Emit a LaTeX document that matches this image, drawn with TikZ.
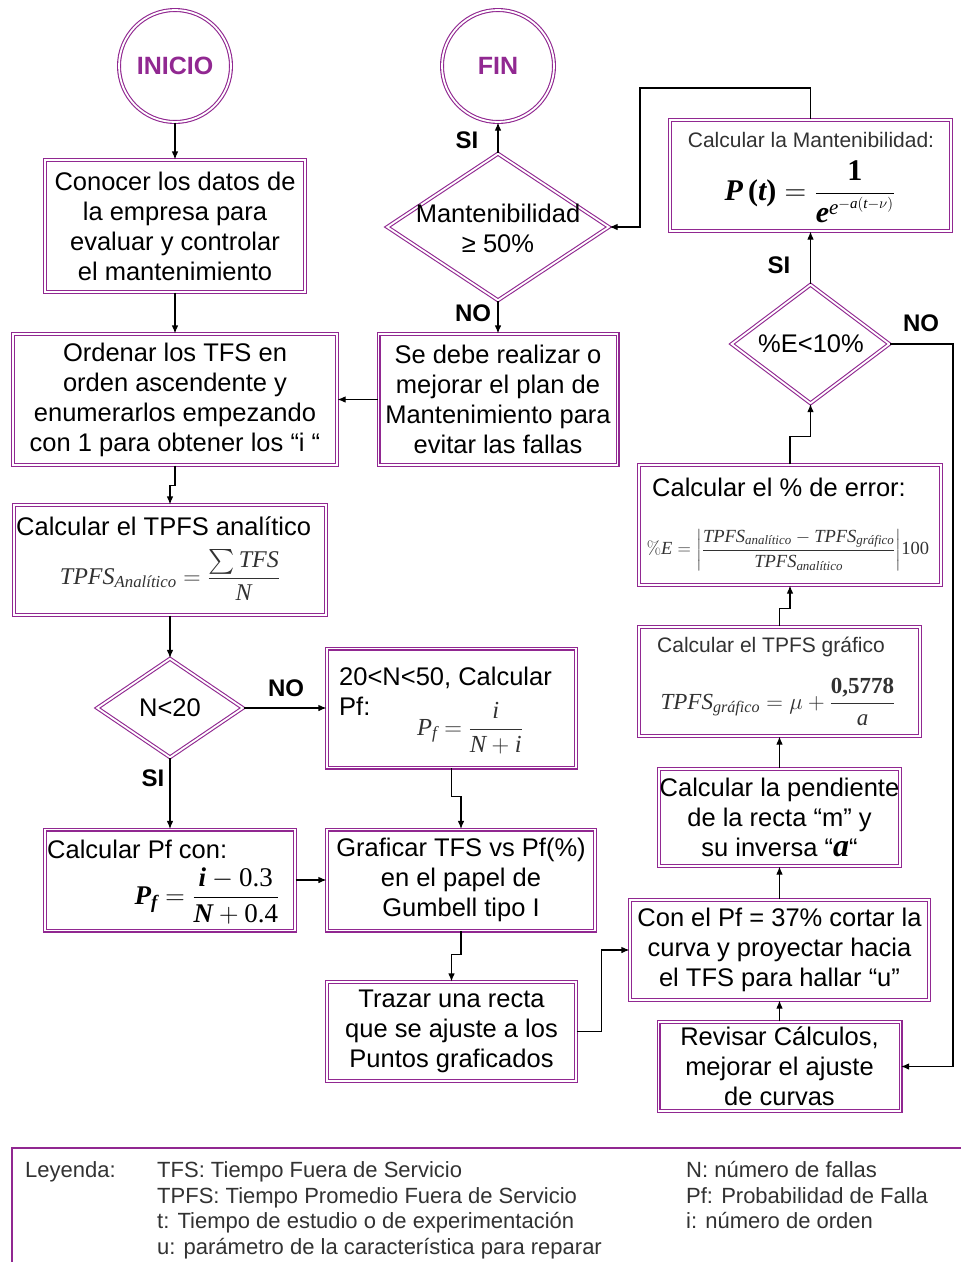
\RequirePackage{fix-cm}
\documentclass[tikz,border=0pt]{standalone}
\usepackage{amsmath}
\usepackage[no-math]{fontspec}
\setmainfont{Liberation Sans}
\newfontfamily\tms{Liberation Serif}
\newcommand\ti[1]{\text{\tms\itshape #1}}
\newcommand\bi[1]{\text{\tms\bfseries\itshape #1}}
\newcommand\tr[1]{\text{\tms #1}}
\newcommand\br[1]{\text{\tms\bfseries #1}}
\usetikzlibrary{shapes.geometric,arrows.meta}
\definecolor{pp}{RGB}{145,40,145}
\definecolor{fg}{RGB}{50,50,50}
\newcommand\mainfs{\fontsize{25.5}{30}\selectfont}
\newcommand\smallfs{\fontsize{21}{25}\selectfont}
\tikzset{
  x=1pt, y=-1pt,
  box/.style={draw=pp, double=white, double distance=1.8pt, line width=1.1pt,
    rectangle, inner sep=0pt, align=center, font=\mainfs},
  circ/.style={draw=pp, double=white, double distance=1.8pt, line width=1.1pt,
    circle, inner sep=0pt, text=pp, font=\fontsize{25}{28}\bfseries},
  dia/.style={draw=pp, double=white, double distance=1.8pt, line width=1.1pt,
    diamond, inner sep=0pt},
  txt/.style={inner sep=0pt, align=center, font=\mainfs},
  stxt/.style={inner sep=0pt, align=center, text=fg, font=\smallfs},
  fml/.style={inner sep=0pt, text=fg},
  lbl/.style={inner sep=0pt, font=\fontsize{24}{28}\bfseries},
  leg/.style={inner sep=0pt, text=fg, font=\fontsize{22}{25}\selectfont},
  arr/.style={draw=black, line width=1.1pt, -{Latex[length=8pt,width=6.5pt]}},
  legline/.style={draw=pp, line width=1.3pt}
}
\begin{document}
\begin{tikzpicture}
\fill[white] (0,0) rectangle (961,1262);
\useasboundingbox (0,0) rectangle (961,1262);

% circles
\node[circ, minimum size=112pt] (c1) at (175,66) {INICIO};
\node[circ, minimum size=112pt] (c2) at (498,66) {FIN};

% left column boxes
\node[box, minimum width=260pt, minimum height=132pt] (b1) at (175,226)
  {Conocer los datos de\\la empresa para\\evaluar y controlar\\el mantenimiento};
\node[box, minimum width=324pt, minimum height=131pt] (b2) at (175,399.5)
  {Ordenar los TFS en\\orden ascendente y\\enumerarlos empezando\\con 1 para obtener los “i “};
\node[box, minimum width=239pt, minimum height=131pt] (b3) at (498,399.5)
  {Se debe realizar o\\mejorar el plan de\\Mantenimiento para\\evitar las fallas};
\node[box, minimum width=312pt, minimum height=110pt] (b4) at (170,560) {};
\node[txt, anchor=west] (t4a) at (16,526) {Calcular el TPFS analítico};
\node[fml] (t4b) at (170,575) {\fontsize{24}{28}\selectfont
  $\ti{TPFS}_{\ti{Analítico}} = \dfrac{\sum \ti{TFS}}{\ti{N}}$};

\node[box, minimum width=249pt, minimum height=119pt] (b5) at (451.5,708) {};
\node[txt, anchor=west, align=left] (t5a) at (339,691) {20<N<50, Calcular\\Pf:};
\node[fml] (t5b) at (470,728) {\fontsize{24.5}{28}\selectfont
  $\ti{P}_{\ti{f}} = \dfrac{\ti{i}}{\ti{N}+\ti{i}}$};

\node[box, minimum width=250pt, minimum height=101pt] (b6) at (170,880) {};
\node[txt, anchor=west] (t6a) at (47,849) {Calcular Pf con:};
\node[fml, text=black] (t6b) at (207,896) {\fontsize{27}{30}\selectfont
  $\bi{P}_{\bi{f}} = \dfrac{\bi{i}-\tr{0.3}}{\bi{N}+\tr{0.4}}$};

\node[box, minimum width=268pt, minimum height=101pt] (b7) at (461,880)
  {Graficar TFS vs Pf(\%)\\en el papel de\\Gumbell tipo I};
\node[box, minimum width=249pt, minimum height=99pt] (b8) at (451.5,1031.5)
  {Trazar una recta\\que se ajuste a los\\Puntos graficados};

% right column
\node[box, minimum width=281pt, minimum height=111pt] (b9) at (810.5,175.5) {};
\node[stxt] (t9a) at (811,140) {Calcular la Mantenibilidad:};
\node[fml, text=black] (t9b) at (810,192) {\fontsize{30}{34}\selectfont
  $\bi{P}\,\br{(}\bi{t}\br{)} = \dfrac{\br{1}}{\bi{e}^{\ti{e}^{-\ti{a}(\ti{t}-\nu)}}}$};

\node[box, minimum width=302pt, minimum height=120pt] (b10) at (790,525) {};
\node[txt] (t10a) at (779,487) {Calcular el \% de error:};
\node[fml] (t10b) at (788,550) {\fontsize{18.5}{22}\selectfont
  $\%\ti{E} = \left|\dfrac{\ti{TPFS}_{\ti{analítico}} - \ti{TPFS}_{\ti{gráfico}}}{\ti{TPFS}_{\ti{analítico}}}\right|\!\tr{100}$};

\node[box, minimum width=281pt, minimum height=109pt] (b11) at (779.5,681.5) {};
\node[stxt] (t11a) at (771,647) {Calcular el TPFS gráfico};
\node[fml] (t11b) at (778,702) {\fontsize{23}{27}\selectfont
  $\ti{TPFS}_{\ti{gráfico}} = \mu + \dfrac{\br{0,5778}}{\ti{a}}$};

\node[box, minimum width=241pt, minimum height=97pt] (b12) at (779.5,817.5)
  {Calcular la pendiente\\de la recta “m” y\\su inversa “{\fontsize{32}{30}\selectfont\tms\bfseries\itshape a}“};
\node[box, minimum width=299pt, minimum height=100pt] (b13) at (779.5,950)
  {Con el Pf = 37\% cortar la\\curva y proyectar hacia\\el TFS para hallar “u”};
\node[box, minimum width=242pt, minimum height=89pt] (b14) at (779.5,1066.5)
  {Revisar Cálculos,\\mejorar el ajuste\\de curvas};

% diamonds
\node[dia, minimum width=222pt, minimum height=147pt] (d1) at (498,227) {};
\node[txt] (td1) at (498,228) {Mantenibilidad\\≥ 50\%};
\node[dia, minimum width=158pt, minimum height=119pt] (d2) at (810.5,344) {};
\node[txt] (td2) at (811,344) {\%E<10\%};
\node[dia, minimum width=146pt, minimum height=99pt] (d3) at (170,708) {};
\node[txt] (td3) at (170,708) {N<20};

% labels
\node[lbl] (s1) at (467,140) {SI};
\node[lbl] (n1) at (473,313) {NO};
\node[lbl] (s2) at (779,265) {SI};
\node[lbl] (n2) at (921,323) {NO};
\node[lbl] (n3) at (286,688) {NO};
\node[lbl] (s3) at (153,778) {SI};

% connectors
\draw[arr] (c1) -- (b1);
\draw[arr] (b1) -- (b2);
\draw[arr] (b3.west) -- (b2.east);
\draw[arr] (d1) -- (c2);
\draw[arr] (d1) -- (b3);
\coordinate (k1) at (640,88);
\draw[arr] (b9.north) |- (k1) |- (d1.east);
\draw[arr] (d2) -- (b9);
\coordinate (k2) at (953,1066.5);
\draw[arr] (d2.east) -| (k2) -- (b14.east);
\draw[arr] (b10.north) -- ++(0,-28) -| (d2.south);
\draw[arr] (b11.north) -- ++(0,-18) -| (b10.south);
\draw[arr] (b12) -- (b11);
\draw[arr] (b13) -- (b12);
\draw[arr] (b14) -- (b13);
\draw[arr] (b8.east) -- ++(25,0) |- (b13.west);
\draw[arr] (b2.south) -- ++(0,20) -| (b4.north);
\draw[arr] (b4) -- (d3);
\draw[arr] (d3.east) -- (b5.west);
\draw[arr] (d3) -- (b6);
\draw[arr] (b6.east) -- (b7.west);
\draw[arr] (b5.south) -- ++(0,28) -| (b7.north);
\draw[arr] (b7.south) -- ++(0,23) -| (b8.north);

% legend
\draw[legline] (975,1148) -- (12,1148) -- (12,1275);
\node[leg, anchor=base west] (l0) at (25,1177) {Leyenda:};
\node[leg, anchor=base west] (l1) at (157,1177) {TFS: Tiempo Fuera de Servicio};
\node[leg, anchor=base west] (l2) at (157,1203) {TPFS: Tiempo Promedio Fuera de Servicio};
\node[leg, anchor=base west] (l3) at (157,1228.5) {t: Tiempo de estudio o de experimentación};
\node[leg, anchor=base west] (l4) at (157,1254) {u: parámetro de la característica para reparar};
\node[leg, anchor=base west] (l5) at (686,1177) {N: número de fallas};
\node[leg, anchor=base west] (l6) at (686,1203) {Pf: Probabilidad de Falla};
\node[leg, anchor=base west] (l7) at (686,1228.5) {i: número de orden};
\end{tikzpicture}
\end{document}
